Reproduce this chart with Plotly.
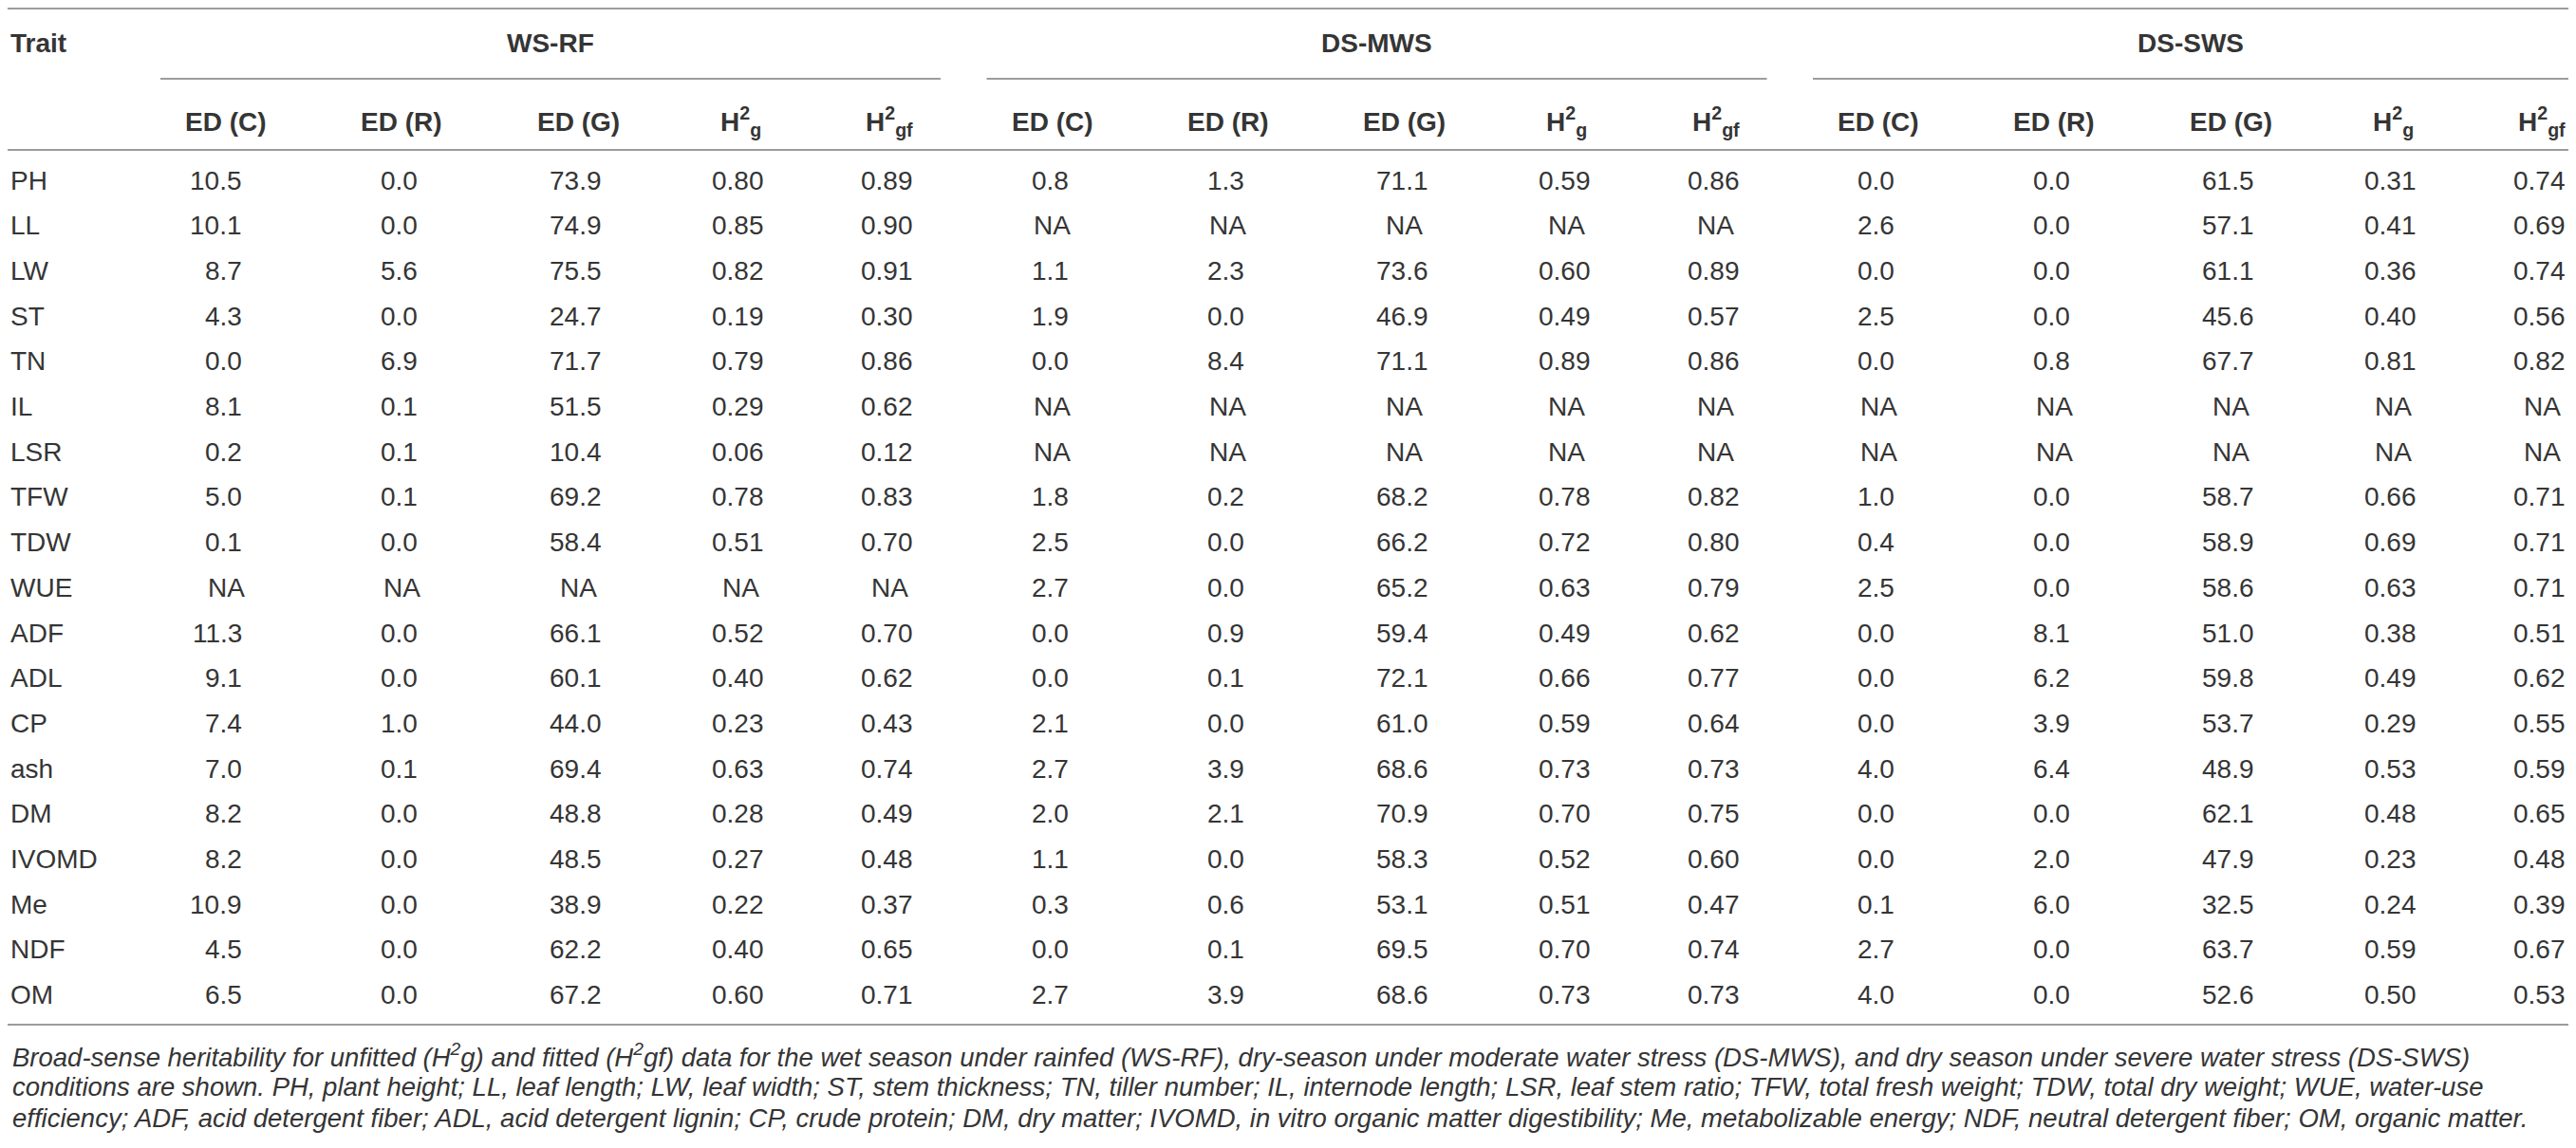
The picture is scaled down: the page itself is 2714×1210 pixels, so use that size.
import plotly.graph_objects as go

# table content
traits = ["PH", "LL", "LW", "ST", "TN", "IL", "LSR", "TFW", "TDW", "WUE",
          "ADF", "ADL", "CP", "ash", "DM", "IVOMD", "Me", "NDF", "OM"]
groups = ["WS-RF", "DS-MWS", "DS-SWS"]
columns = ["ED (C)", "ED (R)", "ED (G)",
           "H<sup>2</sup><sub>g</sub>", "H<sup>2</sup><sub>gf</sub>"]

ws_rf = [
    ["10.5", "0.0", "73.9", "0.80", "0.89"],
    ["10.1", "0.0", "74.9", "0.85", "0.90"],
    ["8.7", "5.6", "75.5", "0.82", "0.91"],
    ["4.3", "0.0", "24.7", "0.19", "0.30"],
    ["0.0", "6.9", "71.7", "0.79", "0.86"],
    ["8.1", "0.1", "51.5", "0.29", "0.62"],
    ["0.2", "0.1", "10.4", "0.06", "0.12"],
    ["5.0", "0.1", "69.2", "0.78", "0.83"],
    ["0.1", "0.0", "58.4", "0.51", "0.70"],
    ["NA", "NA", "NA", "NA", "NA"],
    ["11.3", "0.0", "66.1", "0.52", "0.70"],
    ["9.1", "0.0", "60.1", "0.40", "0.62"],
    ["7.4", "1.0", "44.0", "0.23", "0.43"],
    ["7.0", "0.1", "69.4", "0.63", "0.74"],
    ["8.2", "0.0", "48.8", "0.28", "0.49"],
    ["8.2", "0.0", "48.5", "0.27", "0.48"],
    ["10.9", "0.0", "38.9", "0.22", "0.37"],
    ["4.5", "0.0", "62.2", "0.40", "0.65"],
    ["6.5", "0.0", "67.2", "0.60", "0.71"],
]
ds_mws = [
    ["0.8", "1.3", "71.1", "0.59", "0.86"],
    ["NA", "NA", "NA", "NA", "NA"],
    ["1.1", "2.3", "73.6", "0.60", "0.89"],
    ["1.9", "0.0", "46.9", "0.49", "0.57"],
    ["0.0", "8.4", "71.1", "0.89", "0.86"],
    ["NA", "NA", "NA", "NA", "NA"],
    ["NA", "NA", "NA", "NA", "NA"],
    ["1.8", "0.2", "68.2", "0.78", "0.82"],
    ["2.5", "0.0", "66.2", "0.72", "0.80"],
    ["2.7", "0.0", "65.2", "0.63", "0.79"],
    ["0.0", "0.9", "59.4", "0.49", "0.62"],
    ["0.0", "0.1", "72.1", "0.66", "0.77"],
    ["2.1", "0.0", "61.0", "0.59", "0.64"],
    ["2.7", "3.9", "68.6", "0.73", "0.73"],
    ["2.0", "2.1", "70.9", "0.70", "0.75"],
    ["1.1", "0.0", "58.3", "0.52", "0.60"],
    ["0.3", "0.6", "53.1", "0.51", "0.47"],
    ["0.0", "0.1", "69.5", "0.70", "0.74"],
    ["2.7", "3.9", "68.6", "0.73", "0.73"],
]
ds_sws = [
    ["0.0", "0.0", "61.5", "0.31", "0.74"],
    ["2.6", "0.0", "57.1", "0.41", "0.69"],
    ["0.0", "0.0", "61.1", "0.36", "0.74"],
    ["2.5", "0.0", "45.6", "0.40", "0.56"],
    ["0.0", "0.8", "67.7", "0.81", "0.82"],
    ["NA", "NA", "NA", "NA", "NA"],
    ["NA", "NA", "NA", "NA", "NA"],
    ["1.0", "0.0", "58.7", "0.66", "0.71"],
    ["0.4", "0.0", "58.9", "0.69", "0.71"],
    ["2.5", "0.0", "58.6", "0.63", "0.71"],
    ["0.0", "8.1", "51.0", "0.38", "0.51"],
    ["0.0", "6.2", "59.8", "0.49", "0.62"],
    ["0.0", "3.9", "53.7", "0.29", "0.55"],
    ["4.0", "6.4", "48.9", "0.53", "0.59"],
    ["0.0", "0.0", "62.1", "0.48", "0.65"],
    ["0.0", "2.0", "47.9", "0.23", "0.48"],
    ["0.1", "6.0", "32.5", "0.24", "0.39"],
    ["2.7", "0.0", "63.7", "0.59", "0.67"],
    ["4.0", "0.0", "52.6", "0.50", "0.53"],
]

caption_lines = [
    "Broad-sense heritability for unfitted (H<sup>2</sup>g) and fitted (H<sup>2</sup>gf) data for the wet season under rainfed (WS-RF), dry-season under moderate water stress (DS-MWS), and dry season under severe water stress (DS-SWS)",
    "conditions are shown. PH, plant height; LL, leaf length; LW, leaf width; ST, stem thickness; TN, tiller number; IL, internode length; LSR, leaf stem ratio; TFW, total fresh weight; TDW, total dry weight; WUE, water-use",
    "efficiency; ADF, acid detergent fiber; ADL, acid detergent lignin; CP, crude protein; DM, dry matter; IVOMD, in vitro organic matter digestibility; Me, metabolizable energy; NDF, neutral detergent fiber; OM, organic matter.",
]

# page is 2714x1210, body keeps its 8px margin -> axes map straight to page pixels
W, H = 2714, 1210
PAD = 8
FONT = "Liberation Sans, Arial, Helvetica, sans-serif"
FS = 28
TXT = "#353535"
LINE = "#9c9c9c"

# layout (page pixels)
col_off = [0, 185, 371, 542, 699]
group_x0 = [238, 1108.5, 1979]
row_y0, row_dy = 190, 47.7
y_group, y_gline, y_head, y_hline, y_top, y_bottom = 45, 83, 128, 158, 9, 1080
caption_y = [1112, 1145, 1178]
x_left = 9


def str_width(s):
    # rough Arial advance widths, in em
    return sum(0.278 if c == "." else 0.556 for c in s) * FS


fig = go.Figure()
ann = []
shapes = []


def add_text(x, y, text, anchor="center", bold=False, italic=False, size=FS):
    if bold:
        text = "<b>" + text + "</b>"
    if italic:
        text = "<i>" + text + "</i>"
    ann.append(dict(x=x, y=y, xref="x", yref="y", text=text, showarrow=False,
                    xanchor=anchor, yanchor="middle",
                    font=dict(family=FONT, size=size, color=TXT)))


def hline(x0, x1, y):
    shapes.append(dict(type="line", xref="x", yref="y", x0=x0, x1=x1, y0=y, y1=y,
                       line=dict(color=LINE, width=2)))


hline(PAD, W - PAD, y_top)
hline(PAD, W - PAD, y_hline)
hline(PAD, W - PAD, y_bottom)

add_text(x_left, y_group, "Trait", anchor="left", bold=True)

for gi, (gname, gdata) in enumerate(zip(groups, [ws_rf, ds_mws, ds_sws])):
    cx = [group_x0[gi] + o for o in col_off]
    lx0 = cx[0] - 69
    lx1 = min(cx[-1] + 54, W - PAD)
    hline(lx0, lx1, y_gline)
    add_text((lx0 + lx1) / 2, y_group, gname, bold=True)
    for ci, cname in enumerate(columns):
        add_text(cx[ci], y_head, cname, bold=True)
    for ci in range(len(columns)):
        col_vals = [row[ci] for row in gdata]
        nums = [v for v in col_vals if v != "NA"]
        # typical string length in the column -> decimal aligned block
        lens = [len(v) for v in nums]
        typical = max(set(lens), key=lens.count) if lens else 3
        half = str_width("0" * (typical - 2) + ".0") / 2
        for ri, v in enumerate(col_vals):
            y = row_y0 + ri * row_dy
            if v == "NA":
                add_text(cx[ci], y, v)
            else:
                add_text(cx[ci] + half, y, v, anchor="right")

for ri, t in enumerate(traits):
    add_text(x_left, row_y0 + ri * row_dy, t, anchor="left")

for li, line in enumerate(caption_lines):
    add_text(x_left + 2, caption_y[li], line, anchor="left", italic=True, size=27.5)

fig.update_layout(
    width=W - 2 * PAD, height=H - 2 * PAD,
    margin=dict(l=0, r=0, t=0, b=0),
    paper_bgcolor="white", plot_bgcolor="white",
    xaxis=dict(range=[PAD, W - PAD], visible=False, fixedrange=True),
    yaxis=dict(range=[H - PAD, PAD], visible=False, fixedrange=True),
    annotations=ann, shapes=shapes, showlegend=False,
)

fig.write_html("out.html")
